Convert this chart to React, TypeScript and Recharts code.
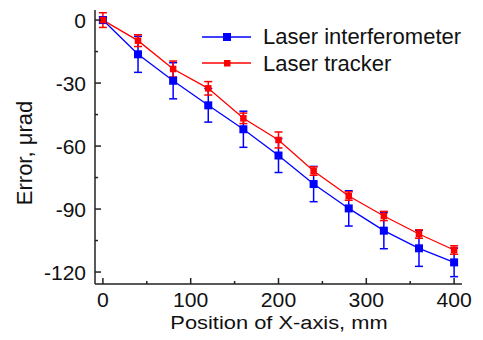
import React from 'react';
import { LineChart, Line, XAxis, YAxis, ErrorBar } from 'recharts';

const positions = [0, 40, 80, 120, 160, 200, 240, 280, 320, 360, 400];
const interferometer = [0, -16.3, -28.9, -40.6, -52, -64.5, -78.1, -89.7, -100.3, -108.7, -115.4];
const interferometerErr = [1.5, 8.6, 8.6, 8, 8.6, 8.1, 8.4, 8.4, 8.6, 8.6, 6.8];
const tracker = [0, -9.8, -23.3, -32.5, -46.8, -57.1, -71.9, -83.8, -93.3, -101.9, -109.5];
const trackerErr = [3.5, 2.8, 3.8, 3.2, 2.5, 3.8, 2, 2, 2.2, 2, 2];

const xTicks = [0, 50, 100, 150, 200, 250, 300, 350, 400];
const yTicks = [0, -15, -30, -45, -60, -75, -90, -105, -120];

const FONT = '"Liberation Sans", Arial, sans-serif';
const AXIS = '#222';

const data = positions.map((x, i) => ({
  x,
  li: interferometer[i],
  liErr: interferometerErr[i],
  lt: tracker[i],
  ltErr: trackerErr[i],
}));

// ticks point inward, only every other tick is labelled
const XTick = (props: any) => {
  const { x, y, payload } = props;
  const major = payload.value % 100 === 0;
  return (
    <g>
      <line x1={x} x2={x} y1={y} y2={y - (major ? 6 : 3)} stroke={AXIS} strokeWidth={1.5} />
      {major && (
        <text
          transform={`translate(${x},${y + 23}) scale(1.06,1)`}
          textAnchor="middle"
          fontSize={20}
          fontFamily={FONT}
          fill="#111"
        >
          {payload.value}
        </text>
      )}
    </g>
  );
};

const YTick = (props: any) => {
  const { x, y, payload } = props;
  const major = payload.value % 30 === 0;
  return (
    <g>
      <line x1={x} x2={x + (major ? 6 : 3)} y1={y} y2={y} stroke={AXIS} strokeWidth={1.5} />
      {major && (
        <text x={x - 9} y={y + 8} textAnchor="end" fontSize={21} fontFamily={FONT} fill="#111">
          {payload.value}
        </text>
      )}
    </g>
  );
};

const Square = (color: string, size: number) => (props: any) => {
  const { cx, cy, index } = props;
  if (cx == null || cy == null) return null;
  return <rect key={index} x={cx - size / 2} y={cy - size / 2} width={size} height={size} fill={color} />;
};

const App = () => {
  return (
    <div style={{ position: 'absolute', left: 0, top: 0, width: 483, height: 340, background: '#fff' }}>
      <LineChart width={483} height={340} data={data} margin={{ top: 10, right: 21, bottom: 0, left: 0 }}>
        <XAxis
          dataKey="x"
          type="number"
          domain={[-9, 409]}
          ticks={xTicks}
          interval={0}
          stroke={AXIS}
          strokeWidth={1.5}
          tickLine={false}
          tickSize={0}
          tickMargin={0}
          tick={<XTick />}
          height={56}
          label={{
            content: () => (
              <text
                transform="translate(279,329) scale(1.15,1)"
                textAnchor="middle"
                fontSize={19}
                fontFamily={FONT}
                fill="#111"
              >
                Position of X-axis, mm
              </text>
            ),
          }}
        />
        <YAxis
          type="number"
          domain={[-125.7, 4.8]}
          ticks={yTicks}
          interval={0}
          width={95}
          stroke={AXIS}
          strokeWidth={1.5}
          tickLine={false}
          tickSize={0}
          tickMargin={0}
          tick={<YTick />}
          label={{
            content: () => (
              <text
                transform="translate(32,153) rotate(-90)"
                textAnchor="middle"
                fontSize={22}
                fontFamily={FONT}
                fill="#111"
              >
                Error, μrad
              </text>
            ),
          }}
        />
        <Line
          dataKey="li"
          stroke="#0000ff"
          strokeWidth={1.3}
          dot={Square('#0000ff', 8)}
          isAnimationActive={false}
        >
          <ErrorBar dataKey="liErr" direction="y" width={4} stroke="#0000ff" strokeWidth={1.5} />
        </Line>
        <Line
          dataKey="lt"
          stroke="#ff0000"
          strokeWidth={1.3}
          dot={Square('#ff0000', 6.5)}
          isAnimationActive={false}
        >
          <ErrorBar dataKey="ltErr" direction="y" width={4} stroke="#ff0000" strokeWidth={1.5} />
        </Line>
      </LineChart>
      <svg width={483} height={80} style={{ position: 'absolute', left: 0, top: 0, pointerEvents: 'none' }}>
        <line x1={202} x2={251} y1={37} y2={37} stroke="#0000ff" strokeWidth={1.3} />
        <rect x={223} y={33} width={8} height={8} fill="#0000ff" />
        <text x={263} y={44} fontSize={22} fontFamily={FONT} fill="#111">Laser interferometer</text>
        <line x1={202} x2={251} y1={63} y2={63} stroke="#ff0000" strokeWidth={1.3} />
        <rect x={224} y={60} width={6.5} height={6.5} fill="#ff0000" />
        <text x={263} y={70.5} fontSize={22} fontFamily={FONT} fill="#111">Laser tracker</text>
      </svg>
    </div>
  );
};

export default App;
